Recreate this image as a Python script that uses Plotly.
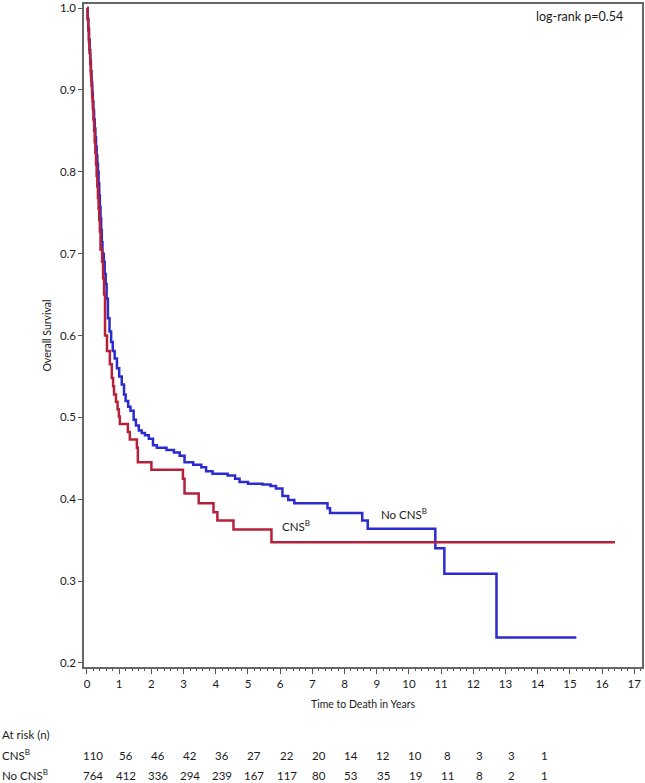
import plotly.graph_objects as go

# ---- Data ----
no_cns_time = [0, 0.02, 0.04, 0.06, 0.08, 0.1, 0.12, 0.14, 0.16, 0.18, 0.2, 0.22, 0.24, 0.26,
               0.28, 0.3, 0.32, 0.34, 0.36, 0.38, 0.4, 0.42, 0.44, 0.46, 0.48, 0.52, 0.55, 0.58,
               0.61, 0.65, 0.7, 0.75, 0.8, 0.86, 0.93, 1.0, 1.08, 1.15, 1.2, 1.28, 1.35, 1.45,
               1.52, 1.61, 1.7, 1.8, 1.92, 2.05, 2.17, 2.47, 2.7, 2.88, 3.03, 3.3, 3.55, 3.7,
               3.9, 4.37, 4.6, 4.74, 5.0, 5.45, 5.7, 5.87, 6.07, 6.25, 6.44, 7.47, 7.55, 8.55,
               8.72, 10.82, 11.1, 12.72, 15.2]
no_cns_surv = [1.0, 0.987, 0.975, 0.962, 0.949, 0.936, 0.923, 0.910, 0.897, 0.886, 0.875,
               0.864, 0.853, 0.842, 0.831, 0.82, 0.81, 0.80, 0.786, 0.771, 0.757, 0.743, 0.729,
               0.714, 0.70, 0.69, 0.675, 0.663, 0.645, 0.621, 0.605, 0.592, 0.581, 0.572, 0.56,
               0.55, 0.54, 0.528, 0.52, 0.513, 0.508, 0.497, 0.49, 0.484, 0.481, 0.478, 0.474,
               0.466, 0.463, 0.46, 0.457, 0.453, 0.445, 0.442, 0.439, 0.434, 0.431, 0.429,
               0.425, 0.421, 0.419, 0.418, 0.416, 0.413, 0.404, 0.399, 0.395, 0.389, 0.383,
               0.374, 0.364, 0.34, 0.309, 0.231, 0.231]

cns_time = [0, 0.02, 0.04, 0.06, 0.08, 0.1, 0.12, 0.14, 0.16, 0.18, 0.2, 0.22, 0.24, 0.26,
            0.28, 0.3, 0.32, 0.34, 0.36, 0.38, 0.4, 0.42, 0.47, 0.5, 0.53, 0.56, 0.62, 0.71,
            0.77, 0.81, 0.84, 0.9, 0.95, 0.99, 1.02, 1.27, 1.33, 1.55, 1.58, 2.0, 2.98, 3.03,
            3.47, 3.93, 4.05, 4.55, 5.73, 16.4]
cns_surv = [1.0, 0.986, 0.973, 0.959, 0.945, 0.932, 0.918, 0.905, 0.891, 0.877, 0.864, 0.85,
            0.836, 0.823, 0.809, 0.795, 0.782, 0.768, 0.755, 0.741, 0.727, 0.705, 0.69, 0.67,
            0.65, 0.60, 0.581, 0.565, 0.548, 0.538, 0.528, 0.519, 0.51, 0.501, 0.492, 0.482,
            0.473, 0.463, 0.445, 0.436, 0.425, 0.407, 0.395, 0.384, 0.374, 0.363, 0.3475,
            0.3475]

risk_times = [0, 1, 2, 3, 4, 5, 6, 7, 8, 9, 10, 11, 12, 13, 14]
risk_cns = [110, 56, 46, 42, 36, 27, 22, 20, 14, 12, 10, 8, 3, 3, 1]
risk_no_cns = [764, 412, 336, 294, 239, 167, 117, 80, 53, 35, 19, 11, 8, 2, 1]

x_ticks = list(range(0, 18))
y_ticks = [0.2, 0.3, 0.4, 0.5, 0.6, 0.7, 0.8, 0.9, 1.0]

BLUE = "#2b2bcf"
RED = "#b5213a"
FONT = "Lato"
TXT = "#1a1a1a"

fig = go.Figure()
fig.add_trace(go.Scatter(x=no_cns_time, y=no_cns_surv, mode="lines",
                         line=dict(color=BLUE, width=2.5, shape="hv"),
                         name="No CNS", showlegend=False))
fig.add_trace(go.Scatter(x=cns_time, y=cns_surv, mode="lines",
                         line=dict(color=RED, width=2.5, shape="hv"),
                         name="CNS", showlegend=False))

annotations = [
    dict(x=9.85, y=0.382, xref="x", yref="y", text="No CNS<sup>B</sup>", showarrow=False,
         font=dict(family=FONT, size=11.5, color=TXT)),
    dict(x=6.5, y=0.368, xref="x", yref="y", text="CNS<sup>B</sup>", showarrow=False,
         font=dict(family=FONT, size=11.5, color=TXT)),
    dict(x=0.97, y=0.995, xref="paper", yref="paper", text="log-rank p=0.54", showarrow=False,
         xanchor="right", yanchor="top", font=dict(family=FONT, size=12.5, color=TXT)),
    dict(x=-0.15, y=-0.114, xref="paper", yref="paper", text="At risk (n)", showarrow=False,
         xanchor="left", font=dict(family=FONT, size=11.5, color=TXT)),
    dict(x=-0.15, y=-0.147, xref="paper", yref="paper", text="CNS<sup>B</sup>", showarrow=False,
         xanchor="left", font=dict(family=FONT, size=11.5, color=TXT)),
    dict(x=-0.15, y=-0.176, xref="paper", yref="paper", text="No CNS<sup>B</sup>", showarrow=False,
         xanchor="left", font=dict(family=FONT, size=11.5, color=TXT)),
]
for t, a, b in zip(risk_times, risk_cns, risk_no_cns):
    annotations.append(dict(x=t + 0.2, y=-0.147, xref="x", yref="paper", text=str(a),
                            showarrow=False, font=dict(family=FONT, size=11.5, color=TXT)))
    annotations.append(dict(x=t + 0.2, y=-0.176, xref="x", yref="paper", text=str(b),
                            showarrow=False, font=dict(family=FONT, size=11.5, color=TXT)))

axis_common = dict(showline=True, linecolor="#666666", linewidth=1.5, mirror=True,
                   showgrid=False, zeroline=False, ticks="outside", tickcolor="#555555",
                   tickwidth=1.3, ticklabeloverflow="allow",
                   tickfont=dict(family=FONT, size=11.5, color=TXT))

fig.update_layout(
    width=645, height=783,
    margin=dict(l=84, r=1, t=2, b=116),
    paper_bgcolor="white", plot_bgcolor="white",
    annotations=annotations,
    xaxis=dict(range=[-0.093, 17.24], tickvals=x_ticks, ticklen=5,
               minor=dict(dtick=0.2, ticks="outside", ticklen=2.5, tickcolor="#555555",
                          tickwidth=1, showgrid=False),
               title=dict(text="Time to Death in Years", standoff=12,
                          font=dict(family=FONT, size=10.5, color=TXT)),
               **axis_common),
    yaxis=dict(range=[0.195, 1.005], tickvals=y_ticks, ticktext=[f"{v:.1f}" for v in y_ticks],
               ticklen=4,
               title=dict(text="Overall Survival", standoff=6,
                          font=dict(family=FONT, size=10.5, color=TXT)),
               **axis_common),
)

fig.write_html("out.html", config={"displayModeBar": False},
               post_script="document.body.style.margin='0';")
